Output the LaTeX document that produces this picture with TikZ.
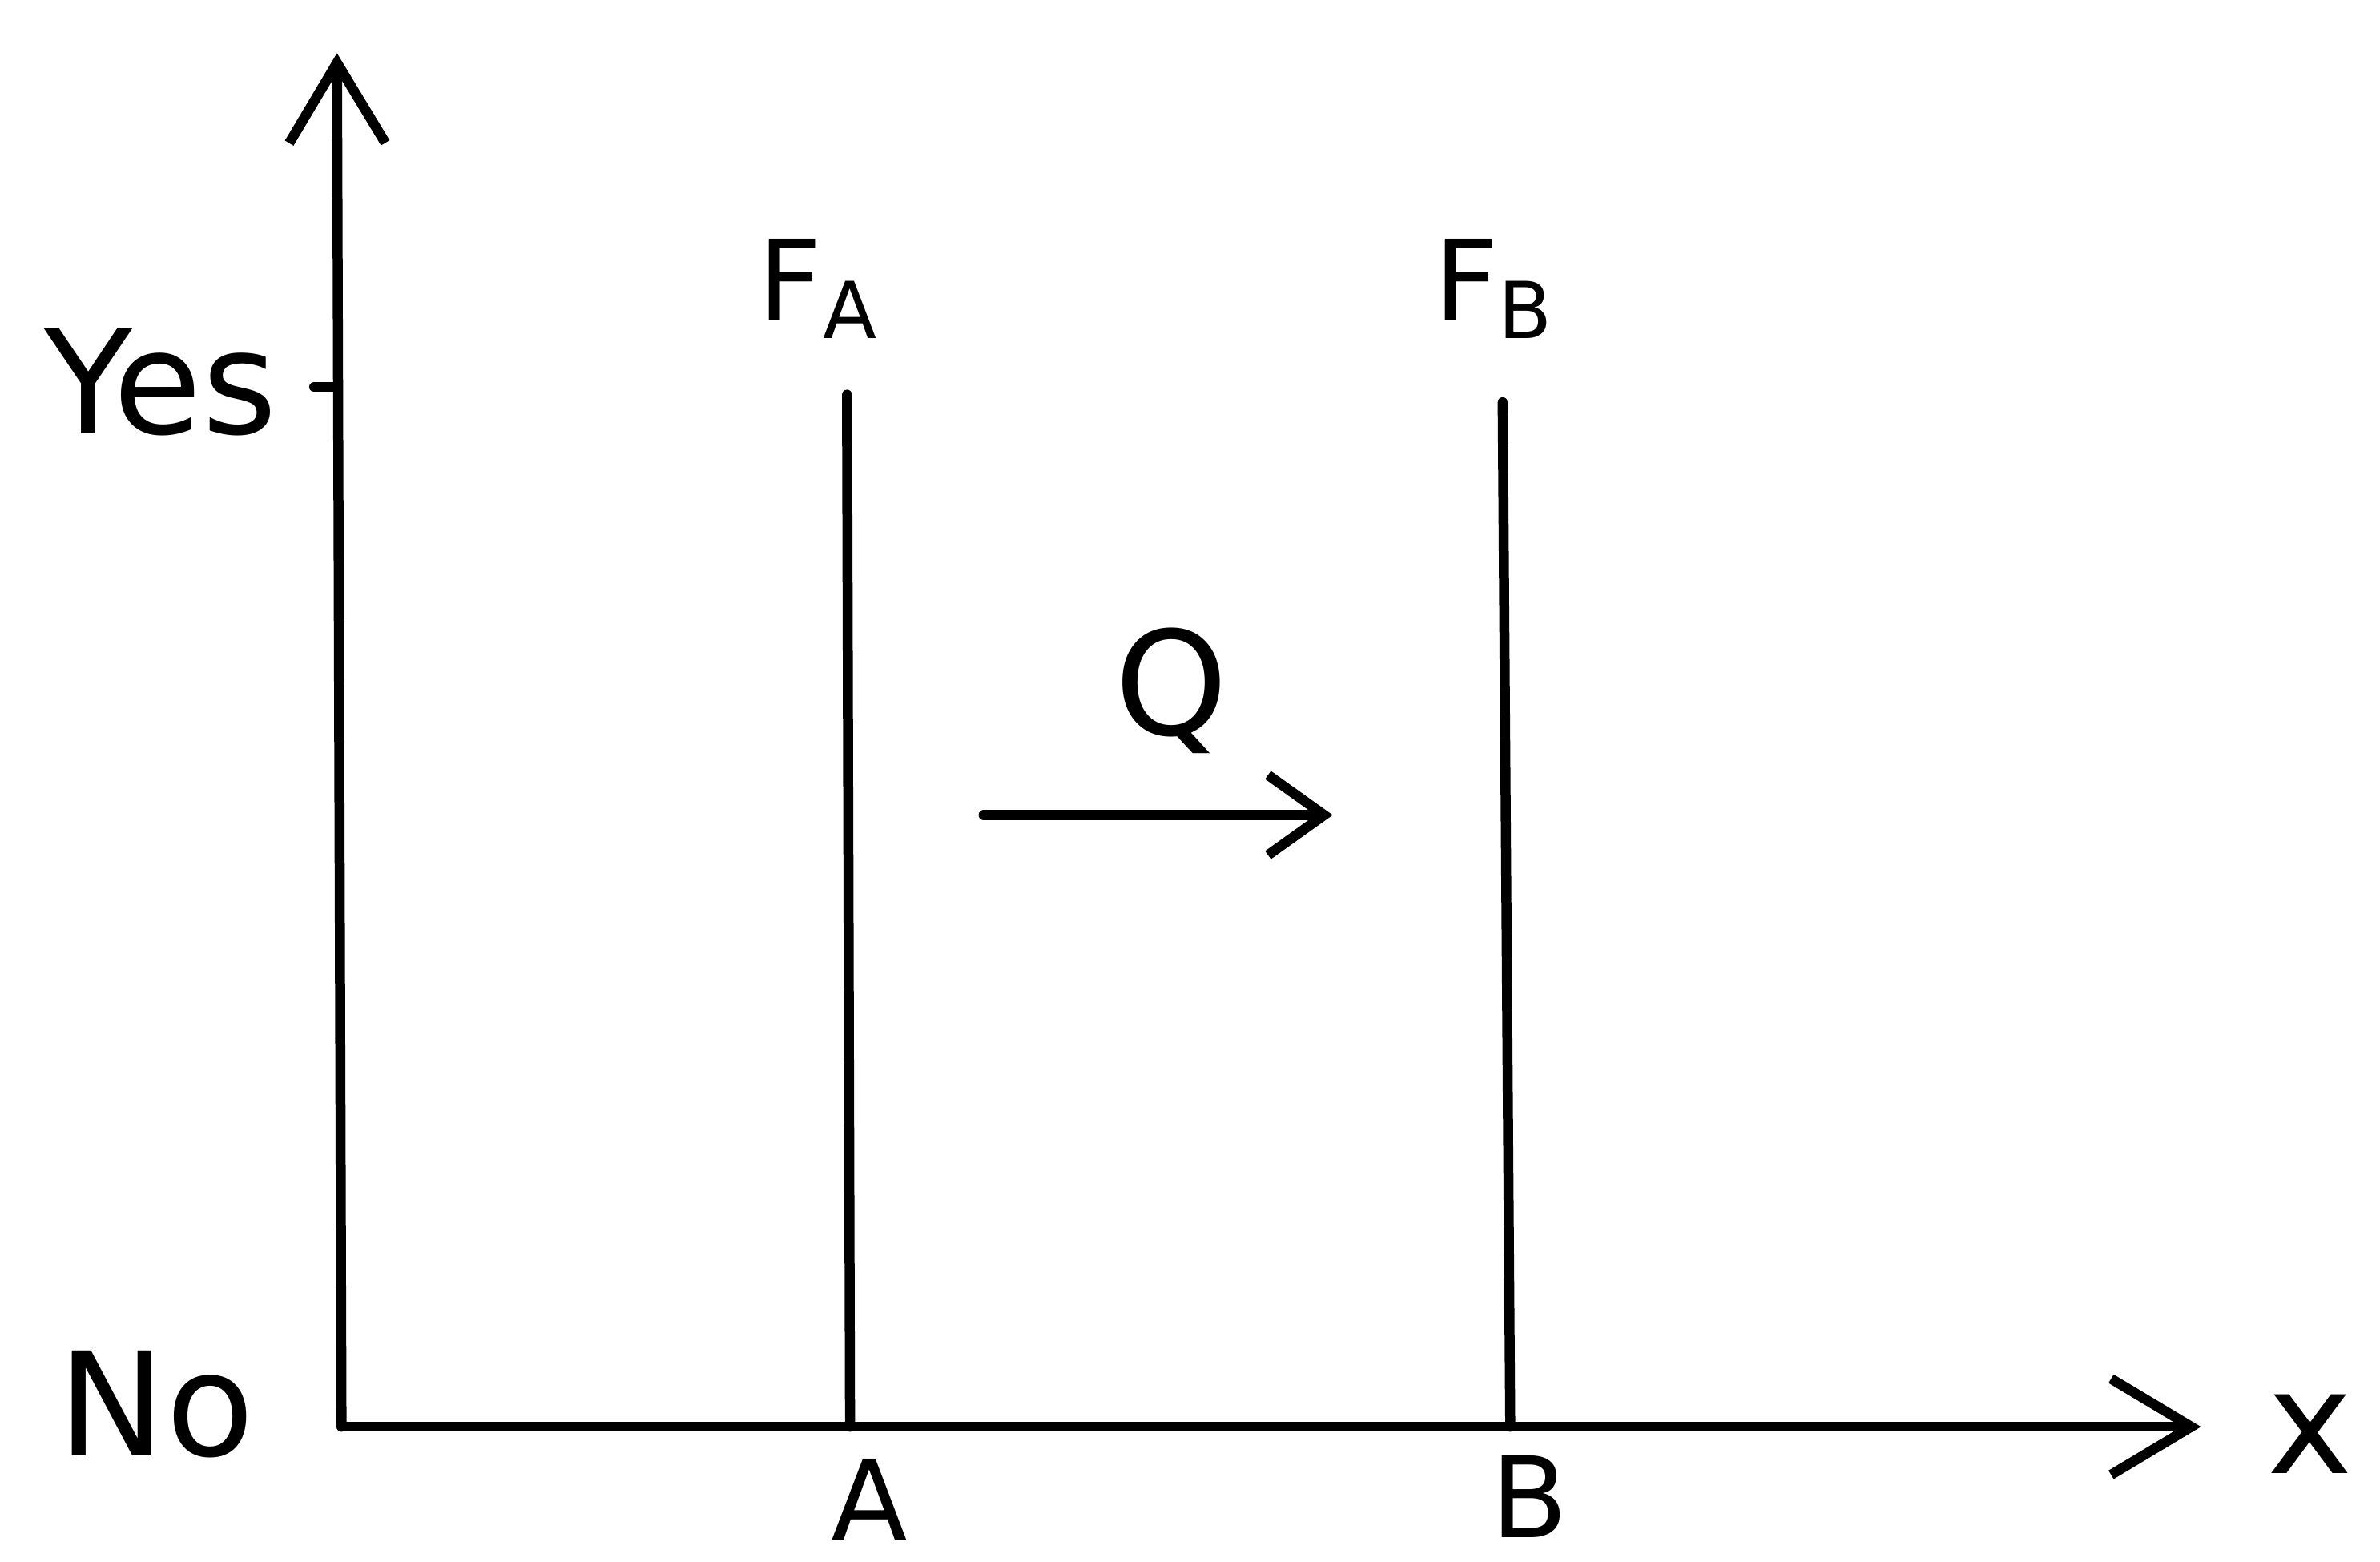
\documentclass[tikz,border=0pt]{standalone}
\usepackage{fontspec}
\setmainfont{DejaVu Sans}
\usetikzlibrary{arrows.meta}
\begin{document}
\begin{tikzpicture}[x=0.1895pt,y=-0.1895pt,
  ln/.style={line width=1.25pt,line cap=round},
  ax/.style={ln,-{Straight Barb[length=10pt,width=12pt,line width=1.25pt]}},
  lbl/.style={inner sep=0pt,font=\fontsize{18}{20}\selectfont},
  sm/.style={inner sep=0pt,font=\fontsize{14}{16}\selectfont}]
\useasboundingbox[fill=white] (0,0) rectangle (1568,1029);
\coordinate (O) at (225,940);
\coordinate (ytop) at (222,35);
\coordinate (xend) at (1450,940);
\coordinate (yt) at (207,255);
\coordinate (yt2) at (222,255);
\coordinate (Atop) at (558,260);
\coordinate (Abot) at (560,940);
\coordinate (Btop) at (990,265);
\coordinate (Bbot) at (995,940);
\coordinate (qs) at (648,537);
\coordinate (qe) at (878,537);
\draw[ax] (O) -- (ytop);
\draw[ax] (O) -- (xend);
\draw[ln] (yt) -- (yt2);
\draw[ln] (Atop) -- (Abot);
\draw[ln] (Btop) -- (Bbot);
\draw[ln,-{Straight Barb[length=7pt,width=10pt,line width=1.25pt]}] (qs) -- (qe);
\node[lbl] (yes) at (106,252) {Yes};
\node[lbl] (no) at (103,925) {No};
\node[lbl] (xl) at (1522,945) {x};
\node[sm] (FA) at (540,190) {F\textsubscript{A}};
\node[sm] (FB) at (985,190) {F\textsubscript{B}};
\node[lbl] (Q) at (772,455) {Q};
\node[sm] (Al) at (573,988) {A};
\node[sm] (Bl) at (1008,986) {B};
\end{tikzpicture}
\end{document}
